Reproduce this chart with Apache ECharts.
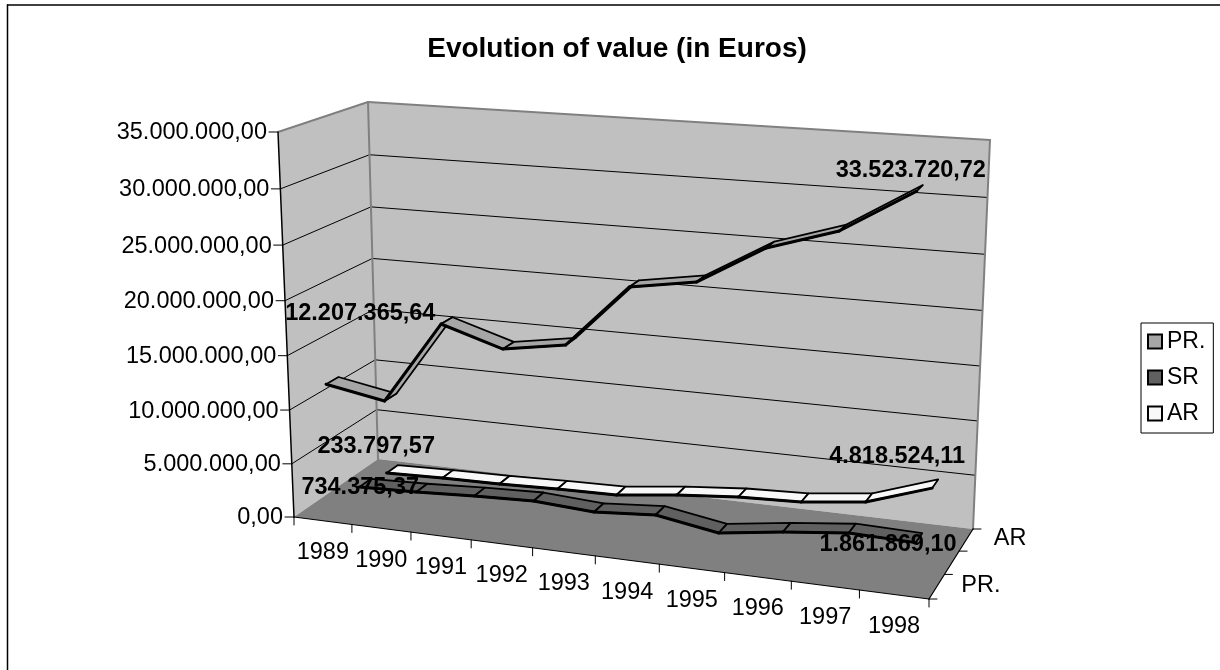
<!DOCTYPE html>
<html><head><meta charset="utf-8">
<script src="https://cdn.jsdelivr.net/npm/echarts@6/dist/echarts.min.js"></script>
<style>html,body{margin:0;padding:0;background:#fff}#c{width:1220px;height:670px}</style></head>
<body><div id="c"></div><script>
const years=['1989','1990','1991','1992','1993','1994','1995','1996','1997','1998'];
const valueTicks=[0,5000000,10000000,15000000,20000000,25000000,30000000,35000000];
const tickLabels=['0,00','5.000.000,00','10.000.000,00','15.000.000,00','20.000.000,00','25.000.000,00','30.000.000,00','35.000.000,00'];
const depthLabels=['PR.','','AR'];
const PR=[12207365.64,11245000,18774000,17082000,17986000,23565000,24501000,27875000,29776000,33523720.72];
const SR=[734375.37,923000,1220000,1430000,1089000,1509000,555000,1368000,1999000,1861869.10];
const AR=[233797.57,397000,476000,663000,764000,1447000,1943000,2163000,2856000,4818524.11];
const labelPR=['12.207.365,64','33.523.720,72'];
const labelSR=['734.375,37','1.861.869,10'];
const labelAR=['233.797,57','4.818.524,11'];

function quad(p){const [x0,y0]=p[0],[x1,y1]=p[1],[x2,y2]=p[2],[x3,y3]=p[3];
 const dx1=x1-x2,dx2=x3-x2,sx=x0-x1+x2-x3,dy1=y1-y2,dy2=y3-y2,sy=y0-y1+y2-y3,D=dx1*dy2-dx2*dy1;
 const g=(sx*dy2-dx2*sy)/D,h=(dx1*sy-sx*dy1)/D;
 const a=x1-x0+g*x1,b=x3-x0+h*x3,c=x0,d=y1-y0+g*y1,e=y3-y0+h*y3,f=y0;
 return (u,v)=>{const w=g*u+h*v+1;return [(a*u+b*v+c)/w,(d*u+e*v+f)/w];};}
const floorH=quad([[294,517],[929,599],[973,529],[378,459]]);
const topH=quad([[278,132],[953,180],[990,140],[368,102]]);
const K=1.04,MAX=35000000;
function P(x,val,z){const u=val/MAX,t=u/(u+(1-u)*K),a=floorH(x,z),b=topH(x,z);return [a[0]+(b[0]-a[0])*t,a[1]+(b[1]-a[1])*t];}
const HALF=0.07,ZC={PR:1/6,SR:.5,AR:5/6},XC=i=>(i+.5)/10;

const F='"Liberation Sans",Arial,sans-serif',TS=23.5,TITLE=28;
const poly=(pts,fill,stroke,lw)=>({type:'polygon',shape:{points:pts},style:{fill:fill,stroke:stroke||null,lineWidth:lw||0,lineJoin:'round'},silent:true});
const line=(a,b,c,w)=>({type:'line',shape:{x1:a[0],y1:a[1],x2:b[0],y2:b[1]},style:{stroke:c,lineWidth:w,lineCap:'round'},silent:true});
const txt=(t,x,y,bold,al,size)=>({type:'text',x:x,y:y,style:{text:t,fill:'#000',font:(bold?'bold ':'')+(size||TS)+'px '+F,align:al||'center',verticalAlign:'middle'},silent:true});
function frame(){const c=[];
 c.push(line([7.5,5],[1220,5],'#000',1.5),line([7.5,5],[7.5,670],'#000',1.5));
 const LFt=P(0,MAX,0),LFb=P(0,0,0),LBt=P(0,MAX,1),LBb=P(0,0,1),RBt=P(1,MAX,1),RBb=P(1,0,1),RFb=P(1,0,0);
 c.push(poly([LFb,LFt,LBt,LBb],'#c0c0c0'),poly([LBb,LBt,RBt,RBb],'#c0c0c0'),poly([LFb,RFb,RBb,LBb],'#808080'));
 valueTicks.forEach((v,i)=>{const a=P(0,v,0),b=P(0,v,1),d=P(1,v,1);
  if(i>0&&i<valueTicks.length-1)c.push(line(a,b,'#000',1),line(b,d,'#000',1));
  c.push(line([a[0]-9,a[1]],a,'#000',1));c.push(txt(tickLabels[i],a[0]-11,a[1]+1,false,'right'));});
 c.push(line(LFt,LBt,'#808080',2),line(LBt,RBt,'#808080',2),line(LBt,LBb,'#808080',2),line(RBt,RBb,'#808080',2));
 c.push(line(LFb,LFt,'#000',1.5),line(LFb,RFb,'#000',1.2),line(RFb,RBb,'#000',1.2));
 for(let i=0;i<=years.length;i++){const a=P(i/years.length,0,0);c.push(line(a,[a[0],a[1]+8],'#000',1));}
 years.forEach((y,i)=>{const a=P(XC(i),0,0);c.push(txt(y,a[0],a[1]+32));});
 for(let i=0;i<=depthLabels.length;i++){const a=P(1,0,i/depthLabels.length);c.push(line(a,[a[0]+8,a[1]],'#000',1));}
 depthLabels.forEach((y,i)=>{if(!y)return;const a=P(1,0,(i+.5)/depthLabels.length);c.push(txt(y,a[0]+44,a[1]-1));});
 c.push(txt('Evolution of value (in Euros)',617,49,true,'center',TITLE));
 return {type:'group',children:c};}
function ribbon(z){return (params,api)=>{const i=api.value(0);if(i>=years.length-1)return null;
 const x0=XC(i),x1=XC(i+1),v0=api.value(1),v1=api.value(2);
 const f0=P(x0,v0,z-HALF),b0=P(x0,v0,z+HALF),f1=P(x1,v1,z-HALF),b1=P(x1,v1,z+HALF);
 return {type:'group',children:[poly([f0,f1,b1,b0],api.visual('color'),'#000',1.8),line(f0,f1,'#000',3)]};};}
function rib(name,vals,z,color){return {type:'custom',name:name,coordinateSystem:'none',silent:true,itemStyle:{color:color},
 renderItem:ribbon(z),data:vals.map((v,i)=>[i,v,i<vals.length-1?vals[i+1]:v]),animation:false};}
function labels(){const c=[];
 const put=(t,vals,i,z,dx,dy)=>{const p=P(XC(i),vals[i],z);c.push(txt(t,p[0]+dx,p[1]+dy,true));};
 put(labelPR[0],PR,0,ZC.PR,28,-67);put(labelPR[1],PR,9,ZC.PR,-9,-18);
 put(labelSR[0],SR,0,ZC.SR,-5,5);put(labelSR[1],SR,9,ZC.SR,-31,7);
 put(labelAR[0],AR,0,ZC.AR,-16,-23);put(labelAR[1],AR,9,ZC.AR,-38,-27);
 return {type:'group',children:c};}
const chart=echarts.init(document.getElementById('c'),null,{renderer:'canvas'});
chart.setOption({animation:false,backgroundColor:'#fff',tooltip:{show:false},
 legend:{data:['PR.','SR','AR'],orient:'vertical',left:1141,top:323,padding:[7,8,8,6],itemWidth:14,itemHeight:14,itemGap:13,icon:'rect',selectedMode:false,
  borderColor:'#000',borderWidth:1,backgroundColor:'#fff',textStyle:{fontFamily:F,fontSize:23,color:'#000',padding:[0,0,0,0]},
  itemStyle:{borderColor:'#000',borderWidth:2}},
 series:[
  {type:'custom',coordinateSystem:'none',silent:true,renderItem:()=>frame(),data:[[0]]},
  rib('AR',AR,ZC.AR,'#f8f8f8'),rib('SR',SR,ZC.SR,'#606060'),rib('PR.',PR,ZC.PR,'#a6a6a6'),
  {type:'custom',coordinateSystem:'none',silent:true,renderItem:()=>labels(),data:[[0]]}
 ]});
</script></body></html>
